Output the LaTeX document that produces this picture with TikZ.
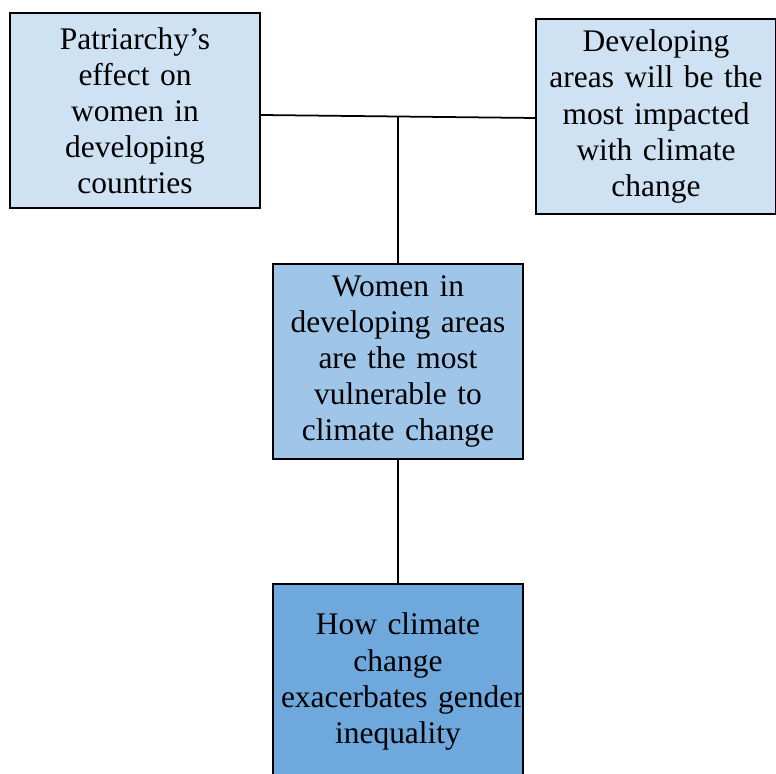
\documentclass[tikz,border=0pt]{standalone}
\usepackage{fontspec}
\setmainfont{Liberation Serif}
\usepackage{tikz}
\usetikzlibrary{positioning,calc}
\definecolor{paleblue}{HTML}{CFE2F3}
\definecolor{midblue}{HTML}{9FC5E8}
\definecolor{deepblue}{HTML}{6FA8DC}
\tikzset{
mybox/.style={
  draw=black,
  line width=1pt,
  minimum width=5cm,
  minimum height=3.9cm,
  text width=4.68cm,
  inner xsep=0.16cm,
  align=center,
  font=\fontsize{17.9}{20.5}\selectfont
  }
}

\begin{document}
\begin{tikzpicture}[line width=1pt]
  \useasboundingbox (0,0) rectangle (15.52,-15.48);

  \node[mybox,fill=paleblue] (patriarchy) at (2.70,-2.21)
    {Patriarchy's\\effect on\\women in\\developing\\countries};
  \node[mybox,fill=paleblue,minimum width=4.8cm,text width=4.48cm] (impacted) at (13.12,-2.33)
    {Developing\\areas will be the\\most impacted\\with climate\\change};
  \node[mybox,fill=midblue] (vulnerable) at (7.96,-7.23)
    {Women in\\developing areas\\are the most\\vulnerable to\\climate change};
  \node[mybox,fill=deepblue] (inequality) at (7.96,-13.63)
    {How climate\\change\\\makebox[4.68cm][l]{exacerbates gender}\\inequality};

  % line between the two top boxes, joint in the middle
  \coordinate (leftend)  at ([yshift=-0.09cm]patriarchy.east);
  \coordinate (rightend) at ([yshift=-0.03cm]impacted.west);
  \coordinate (joint) at ($(leftend)!0.5!(rightend)$);

  \draw (leftend) -- (rightend);
  \draw (joint) -- (vulnerable.north);
  \draw (vulnerable.south) -- (inequality.north);

\end{tikzpicture}
\end{document}
